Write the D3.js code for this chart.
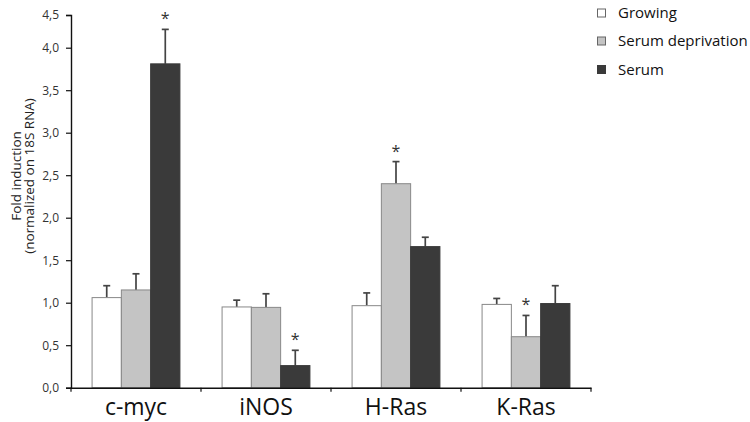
<!DOCTYPE html>
<html><head><meta charset="utf-8">
<script src="https://cdn.jsdelivr.net/npm/d3@7"></script>
<style>body{margin:0;background:#fff}svg{display:block}</style>
</head><body>
<svg id="c" width="750" height="422"></svg>
<script>
const categories = ["c-myc", "iNOS", "H-Ras", "K-Ras"];
const seriesNames = ["Growing", "Serum deprivation", "Serum"];
const growing = [1.06, 0.95, 0.965, 0.98];
const serumDeprivation = [1.15, 0.945, 2.40, 0.60];
const serum = [3.81, 0.26, 1.66, 0.99];
const growingErr = [0.14, 0.08, 0.15, 0.07];
const serumDeprivationErr = [0.19, 0.16, 0.26, 0.25];
const serumErr = [0.47, 0.18, 0.11, 0.21];
const significant = [[false,false,true],[false,false,true],[false,true,false],[false,true,false]];
const yTicks = [0, 0.5, 1, 1.5, 2, 2.5, 3, 3.5, 4, 4.5];
const colors = ["#ffffff", "#c4c4c4", "#3a3a3a"];

const values = [growing, serumDeprivation, serum];
const errs = [growingErr, serumDeprivationErr, serumErr];

const svg = d3.select("#c");
const x0 = d3.scaleBand().domain(categories).range([71, 591]).paddingInner(0).paddingOuter(0);
const x1 = d3.scaleBand().domain(seriesNames).range([0, x0.bandwidth()]).paddingInner(0).paddingOuter(0.72);
// reference axis is compressed above 4,0
const y = d3.scaleLinear().domain([0, 4, 4.5]).range([387.7, 47.7, 15]);

const fmt = d => d.toFixed(1).replace(".", ",");
const font = "'Open Sans', sans-serif";

// bars
categories.forEach((c, i) => {
  seriesNames.forEach((s, j) => {
    const v = values[j][i], e = errs[j][i];
    const bx = x0(c) + x1(s), bw = x1.bandwidth(), cx = bx + bw / 2;
    svg.append("line").attr("x1", cx).attr("x2", cx).attr("y1", y(v)).attr("y2", y(v + e))
      .attr("stroke", "#444").attr("stroke-width", 1.7);
    svg.append("line").attr("x1", cx - 3.5).attr("x2", cx + 3.5).attr("y1", y(v + e)).attr("y2", y(v + e))
      .attr("stroke", "#444").attr("stroke-width", 1.7);
    svg.append("rect").attr("x", bx).attr("y", y(v)).attr("width", bw).attr("height", y(0) - y(v))
      .attr("fill", colors[j]).attr("stroke", j === 2 ? "#3a3a3a" : "#888").attr("stroke-width", 1);
    if (significant[i][j]) {
      svg.append("text").attr("x", cx).attr("y", y(v + e) - 5).attr("text-anchor", "middle")
        .attr("fill", "#333").style("font-family", font).style("font-size", "16px")
        .text("*");
    }
  });
});

// y axis
const ya = svg.append("g").attr("transform", "translate(71,0)")
  .call(d3.axisLeft(y).tickValues(yTicks).tickFormat(fmt).tickSizeOuter(0).tickSize(5).tickPadding(7));
ya.select(".domain").attr("stroke", "#111").attr("stroke-width", 1.4);
ya.selectAll(".tick line").attr("stroke", "#111").attr("stroke-width", 1.2);
ya.selectAll(".tick text").attr("fill", "#333").style("font-family", font).style("font-size", "12px");

// x axis
const xa = svg.append("g").attr("transform", "translate(0,387.7)")
  .call(d3.axisBottom(x0).tickSize(0).tickPadding(11));
xa.select(".domain").attr("stroke", "#111").attr("stroke-width", 1.4);
xa.selectAll(".tick text").attr("fill", "#111").style("font-family", font).style("font-size", "23px");
const seps = [x0(categories[0])].concat(categories.map(c => x0(c) + x0.bandwidth()));
svg.append("g").selectAll("line").data(seps).join("line")
  .attr("x1", d => d).attr("x2", d => d).attr("y1", y(0)).attr("y2", y(0) + 4)
  .attr("stroke", "#111").attr("stroke-width", 1.2);

// y title
const yt = svg.append("text").attr("transform", "translate(0,176) rotate(-90)")
  .attr("text-anchor", "middle").attr("fill", "#222")
  .style("font-family", font).style("font-size", "13.5px");
yt.append("tspan").attr("x", 0).attr("y", 21).text("Fold induction");
yt.append("tspan").attr("x", 0).attr("y", 34).text("(normalized on 18S RNA)");

// legend
const lg = svg.append("g").attr("transform", "translate(597,0)");
seriesNames.forEach((s, j) => {
  const cy = [13, 41, 69.5][j];
  lg.append("rect").attr("x", 0.5).attr("y", cy - 4).attr("width", 8).attr("height", 8)
    .attr("fill", colors[j]).attr("stroke", j === 2 ? "#3a3a3a" : "#666").attr("stroke-width", 1);
  lg.append("text").attr("x", 21).attr("y", cy).attr("dy", "0.35em").attr("fill", "#111")
    .style("font-family", font).style("font-size", "15px").text(s);
});
</script>
</body></html>
